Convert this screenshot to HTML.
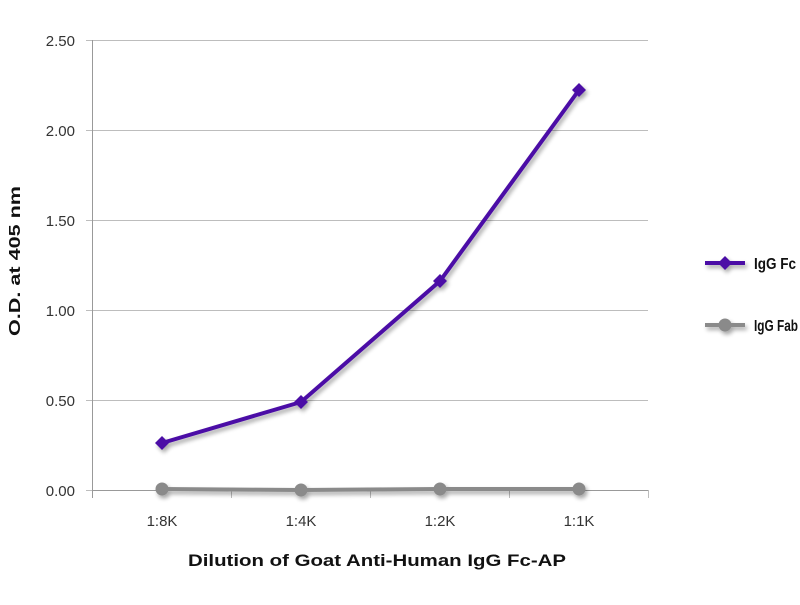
<!DOCTYPE html>
<html><head><style>body{margin:0;background:#fff}</style></head><body>
<svg width="800" height="600" xmlns="http://www.w3.org/2000/svg" font-family="Liberation Sans, sans-serif">
<defs><filter id="s" x="-10%" y="-10%" width="130%" height="130%"><feGaussianBlur in="SourceAlpha" stdDeviation="2"/><feOffset dx="2" dy="3"/><feComponentTransfer><feFuncA type="linear" slope="0.35"/></feComponentTransfer><feMerge><feMergeNode/><feMergeNode in="SourceGraphic"/></feMerge></filter></defs>
<g stroke="#bdbdbd" stroke-width="1">
<line x1="92" y1="40.5" x2="648" y2="40.5"/><line x1="92" y1="130.5" x2="648" y2="130.5"/><line x1="92" y1="220.5" x2="648" y2="220.5"/><line x1="92" y1="310.5" x2="648" y2="310.5"/><line x1="92" y1="400.5" x2="648" y2="400.5"/>
<line x1="92" y1="490.5" x2="648" y2="490.5" stroke="#999"/>
<line x1="92.5" y1="40" x2="92.5" y2="498" stroke="#999"/>
<line x1="231.5" y1="490" x2="231.5" y2="498"/><line x1="370.5" y1="490" x2="370.5" y2="498"/><line x1="509.5" y1="490" x2="509.5" y2="498"/><line x1="648.5" y1="490" x2="648.5" y2="498"/>
<line x1="86" y1="40.5" x2="92" y2="40.5"/><line x1="86" y1="130.5" x2="92" y2="130.5"/><line x1="86" y1="220.5" x2="92" y2="220.5"/><line x1="86" y1="310.5" x2="92" y2="310.5"/><line x1="86" y1="400.5" x2="92" y2="400.5"/><line x1="86" y1="490.5" x2="92" y2="490.5"/>
</g>
<g font-size="15" fill="#333" text-anchor="end">
<text x="75" y="46">2.50</text><text x="75" y="136">2.00</text><text x="75" y="226">1.50</text><text x="75" y="316">1.00</text><text x="75" y="406">0.50</text><text x="75" y="496">0.00</text>
</g>
<g font-size="15" fill="#333" text-anchor="middle">
<text x="162" y="526">1:8K</text><text x="301" y="526">1:4K</text><text x="440" y="526">1:2K</text><text x="579" y="526">1:1K</text>
</g>
<text x="188" y="566" font-size="17" font-weight="bold" fill="#111" textLength="378" lengthAdjust="spacingAndGlyphs">Dilution of Goat Anti-Human IgG Fc-AP</text>
<text transform="translate(20,336) rotate(-90)" font-size="16" font-weight="bold" fill="#111" textLength="150" lengthAdjust="spacingAndGlyphs">O.D. at 405 nm</text>
<g filter="url(#s)">
<polyline points="162,489 301,490 440,489 579,489" fill="none" stroke="#8a8a8a" stroke-width="4"/>
<g fill="#8a8a8a"><circle cx="162" cy="489" r="6.5"/><circle cx="301" cy="490" r="6.5"/><circle cx="440" cy="489" r="6.5"/><circle cx="579" cy="489" r="6.5"/></g>
<polyline points="162,443 301,402 440,281 579,90" fill="none" stroke="#4b0fa6" stroke-width="4"/>
<g fill="#4b0fa6"><path d="M162,436 l7,7 l-7,7 l-7,-7z"/><path d="M301,395 l7,7 l-7,7 l-7,-7z"/><path d="M440,274 l7,7 l-7,7 l-7,-7z"/><path d="M579,83 l7,7 l-7,7 l-7,-7z"/></g>
</g>
<g filter="url(#s)">
<line x1="705" y1="263" x2="745" y2="263" stroke="#4b0fa6" stroke-width="4"/><path d="M725,256 l7,7 l-7,7 l-7,-7z" fill="#4b0fa6"/>
<line x1="705" y1="325" x2="745" y2="325" stroke="#8a8a8a" stroke-width="4"/><circle cx="725" cy="325" r="6.5" fill="#8a8a8a"/>
</g>
<text x="754" y="269" font-size="16" font-weight="bold" fill="#111" textLength="42" lengthAdjust="spacingAndGlyphs">IgG Fc</text>
<text x="754" y="331" font-size="16" font-weight="bold" fill="#111" textLength="44" lengthAdjust="spacingAndGlyphs">IgG Fab</text>
</svg>
</body></html>
